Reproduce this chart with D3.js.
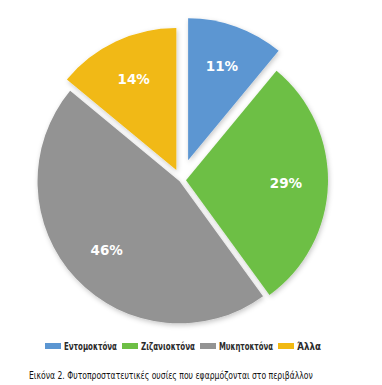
<!DOCTYPE html>
<html>
<head>
<meta charset="utf-8">
<script src="https://cdn.jsdelivr.net/npm/d3@7"></script>
<style>
  body { margin: 0; background: #fff; }
  svg { display: block; }
</style>
</head>
<body>
<div id="chart"></div>
<script>
// data
var categories = ["Εντομοκτόνα", "Ζιζανιοκτόνα", "Μυκητοκτόνα", "Άλλα"];
var values = [11, 29, 46, 14];
var colors = ["#5b96d2", "#6dbf45", "#939393", "#f1b912"];
var caption = "Εικόνα 2. Φυτοπροστατευτικές ουσίες που εφαρμόζονται στο περιβάλλον";

var width = 382,
    height = 385;
var cx = 181, cy = 180, radius = 142;
var explode = [21, 5, 2, 11];   // how far each slice is pulled out

var svg = d3.select("#chart").append("svg")
  .attr("width", width)
  .attr("height", height);

// soft shadow under the slices
var defs = svg.append("defs");
var f = defs.append("filter")
  .attr("id", "shadow")
  .attr("x", "-20%").attr("y", "-20%")
  .attr("width", "140%").attr("height", "140%");
f.append("feDropShadow")
  .attr("dx", 1).attr("dy", 2)
  .attr("stdDeviation", 2.5)
  .attr("flood-color", "#000")
  .attr("flood-opacity", 0.22);

var pie = d3.pie().sort(null).value(d => d);
var arcs = pie(values);
var arc = d3.arc().innerRadius(0).outerRadius(radius);
var labelR = 100;

var g = svg.append("g")
  .attr("transform", "translate(" + cx + "," + cy + ")");

var slices = g.selectAll("g.slice")
  .data(arcs)
  .enter().append("g")
  .attr("class", "slice")
  .attr("transform", function(d, i) {
    var a = (d.startAngle + d.endAngle) / 2;
    return "translate(" + (Math.sin(a) * explode[i]) + "," + (-Math.cos(a) * explode[i]) + ")";
  });

slices.append("path")
  .attr("d", arc)
  .attr("fill", (d, i) => colors[i])
  .attr("filter", "url(#shadow)");

slices.append("text")
  .attr("x", function(d) { return Math.sin((d.startAngle + d.endAngle) / 2) * labelR; })
  .attr("y", function(d) { return -Math.cos((d.startAngle + d.endAngle) / 2) * labelR; })
  .attr("dy", "0.35em")
  .attr("text-anchor", "middle")
  .attr("fill", "#fff")
  .style("font-family", "'DejaVu Sans', sans-serif")
  .style("font-weight", "bold")
  .style("font-size", "13.5px")
  .text(d => d.data + "%");

// squeeze a text horizontally to a given width (the original font is condensed)
function squeeze(sel, x, y, w) {
  var natural = sel.node().getComputedTextLength();
  sel.attr("transform", "translate(" + x + "," + y + ") scale(" + (w / natural) + ",1)");
}

// legend
var legendW = [53, 54, 54, 24];
var sw = 16, sh = 6, gapIn = 3, gapOut = 5;
var total = d3.sum(legendW) + categories.length * (sw + gapIn) + (categories.length - 1) * gapOut;
var lx = 183 - total / 2;
var legend = svg.append("g").attr("class", "legend");
categories.forEach(function(c, i) {
  legend.append("rect")
    .attr("x", lx).attr("y", 343)
    .attr("width", sw).attr("height", sh)
    .attr("fill", colors[i]);
  var t = legend.append("text")
    .attr("fill", "#2a2a2a")
    .style("font-family", "'DejaVu Sans', sans-serif")
    .style("font-weight", "bold")
    .style("font-size", "10px")
    .text(c);
  squeeze(t, lx + sw + gapIn, 350, legendW[i]);
  lx += sw + gapIn + legendW[i] + gapOut;
});

// caption
var cap = svg.append("text")
  .attr("fill", "#111")
  .style("font-family", "'DejaVu Sans', sans-serif")
  .style("font-size", "10px")
  .text(caption);
squeeze(cap, 29, 379, 284);
</script>
</body>
</html>
